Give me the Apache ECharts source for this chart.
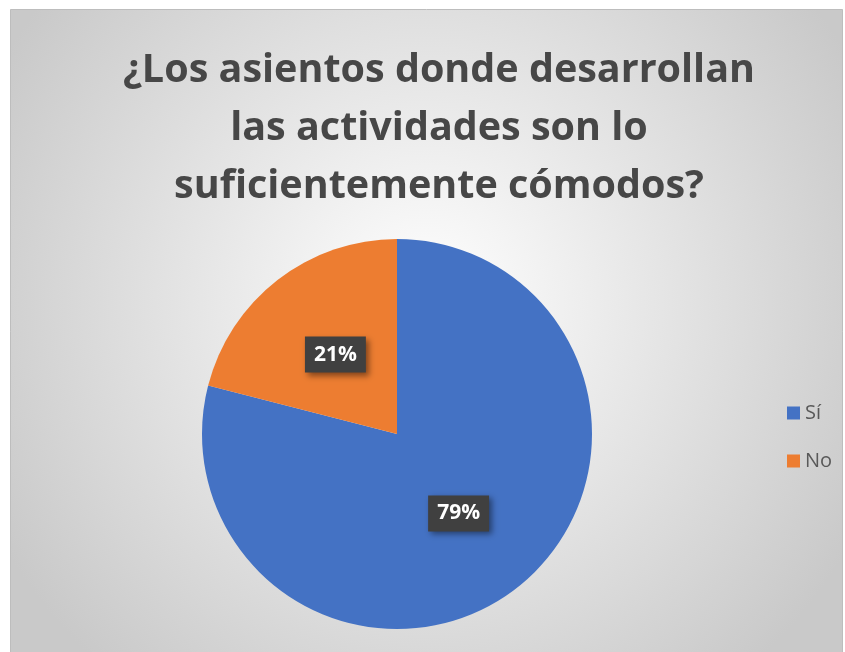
<!DOCTYPE html>
<html>
<head>
<meta charset="utf-8">
<script src="https://cdn.jsdelivr.net/npm/echarts@6/dist/echarts.min.js"></script>
<style>
  html, body { margin: 0; padding: 0; background: #ffffff; }
  #chart { width: 845px; height: 652px; }
</style>
</head>
<body>
<div id="chart"></div>
<script>
const categories = ['Sí', 'No'];
const values = [79, 21];
const colors = ['#4472C4', '#ED7D31'];
const titleText = '¿Los asientos donde desarrollan\nlas actividades son lo\nsuficientemente cómodos?';

const myChart = echarts.init(document.getElementById('chart'));

const option = {
  animation: false,
  color: colors,
  graphic: [
    {
      type: 'rect',
      silent: true,
      z: -10,
      shape: { x: 10.5, y: 9.5, width: 832, height: 650 },
      style: {
        fill: new echarts.graphic.RadialGradient(0.5, 0.45, 0.75, [
          { offset: 0, color: '#ffffff' },
          { offset: 1, color: '#c9c9c9' }
        ]),
        stroke: '#bdbdbd',
        lineWidth: 1
      }
    }
  ],
  title: {
    text: titleText,
    left: 434,
    top: 37,
    textAlign: 'center',
    textStyle: {
      fontFamily: "'Open Sans', sans-serif",
      fontWeight: 'bold',
      fontSize: 39.5,
      lineHeight: 58,
      color: '#474747'
    }
  },
  legend: {
    orient: 'vertical',
    left: 782,
    top: 398,
    itemWidth: 13,
    itemHeight: 13,
    itemGap: 28,
    icon: 'rect',
    textStyle: {
      fontFamily: "'Open Sans', sans-serif",
      fontSize: 20,
      color: '#595959'
    },
    data: categories
  },
  series: [
    {
      type: 'pie',
      center: [397, 434],
      radius: 195,
      startAngle: 90,
      clockwise: true,
      label: {
        show: true,
        position: 'inside',
        formatter: '{d}%',
        fontFamily: "'Open Sans', sans-serif",
        fontWeight: 'bold',
        fontSize: 21,
        color: '#ffffff',
        backgroundColor: '#404040',
        padding: [8, 9, 7, 9],
        shadowColor: 'rgba(0,0,0,0.45)',
        shadowBlur: 6,
        shadowOffsetX: 3,
        shadowOffsetY: 3
      },
      labelLine: { show: false },
      emphasis: { disabled: true },
      data: categories.map((name, i) => ({ name: name, value: values[i] }))
    }
  ]
};

myChart.setOption(option);
</script>
</body>
</html>
